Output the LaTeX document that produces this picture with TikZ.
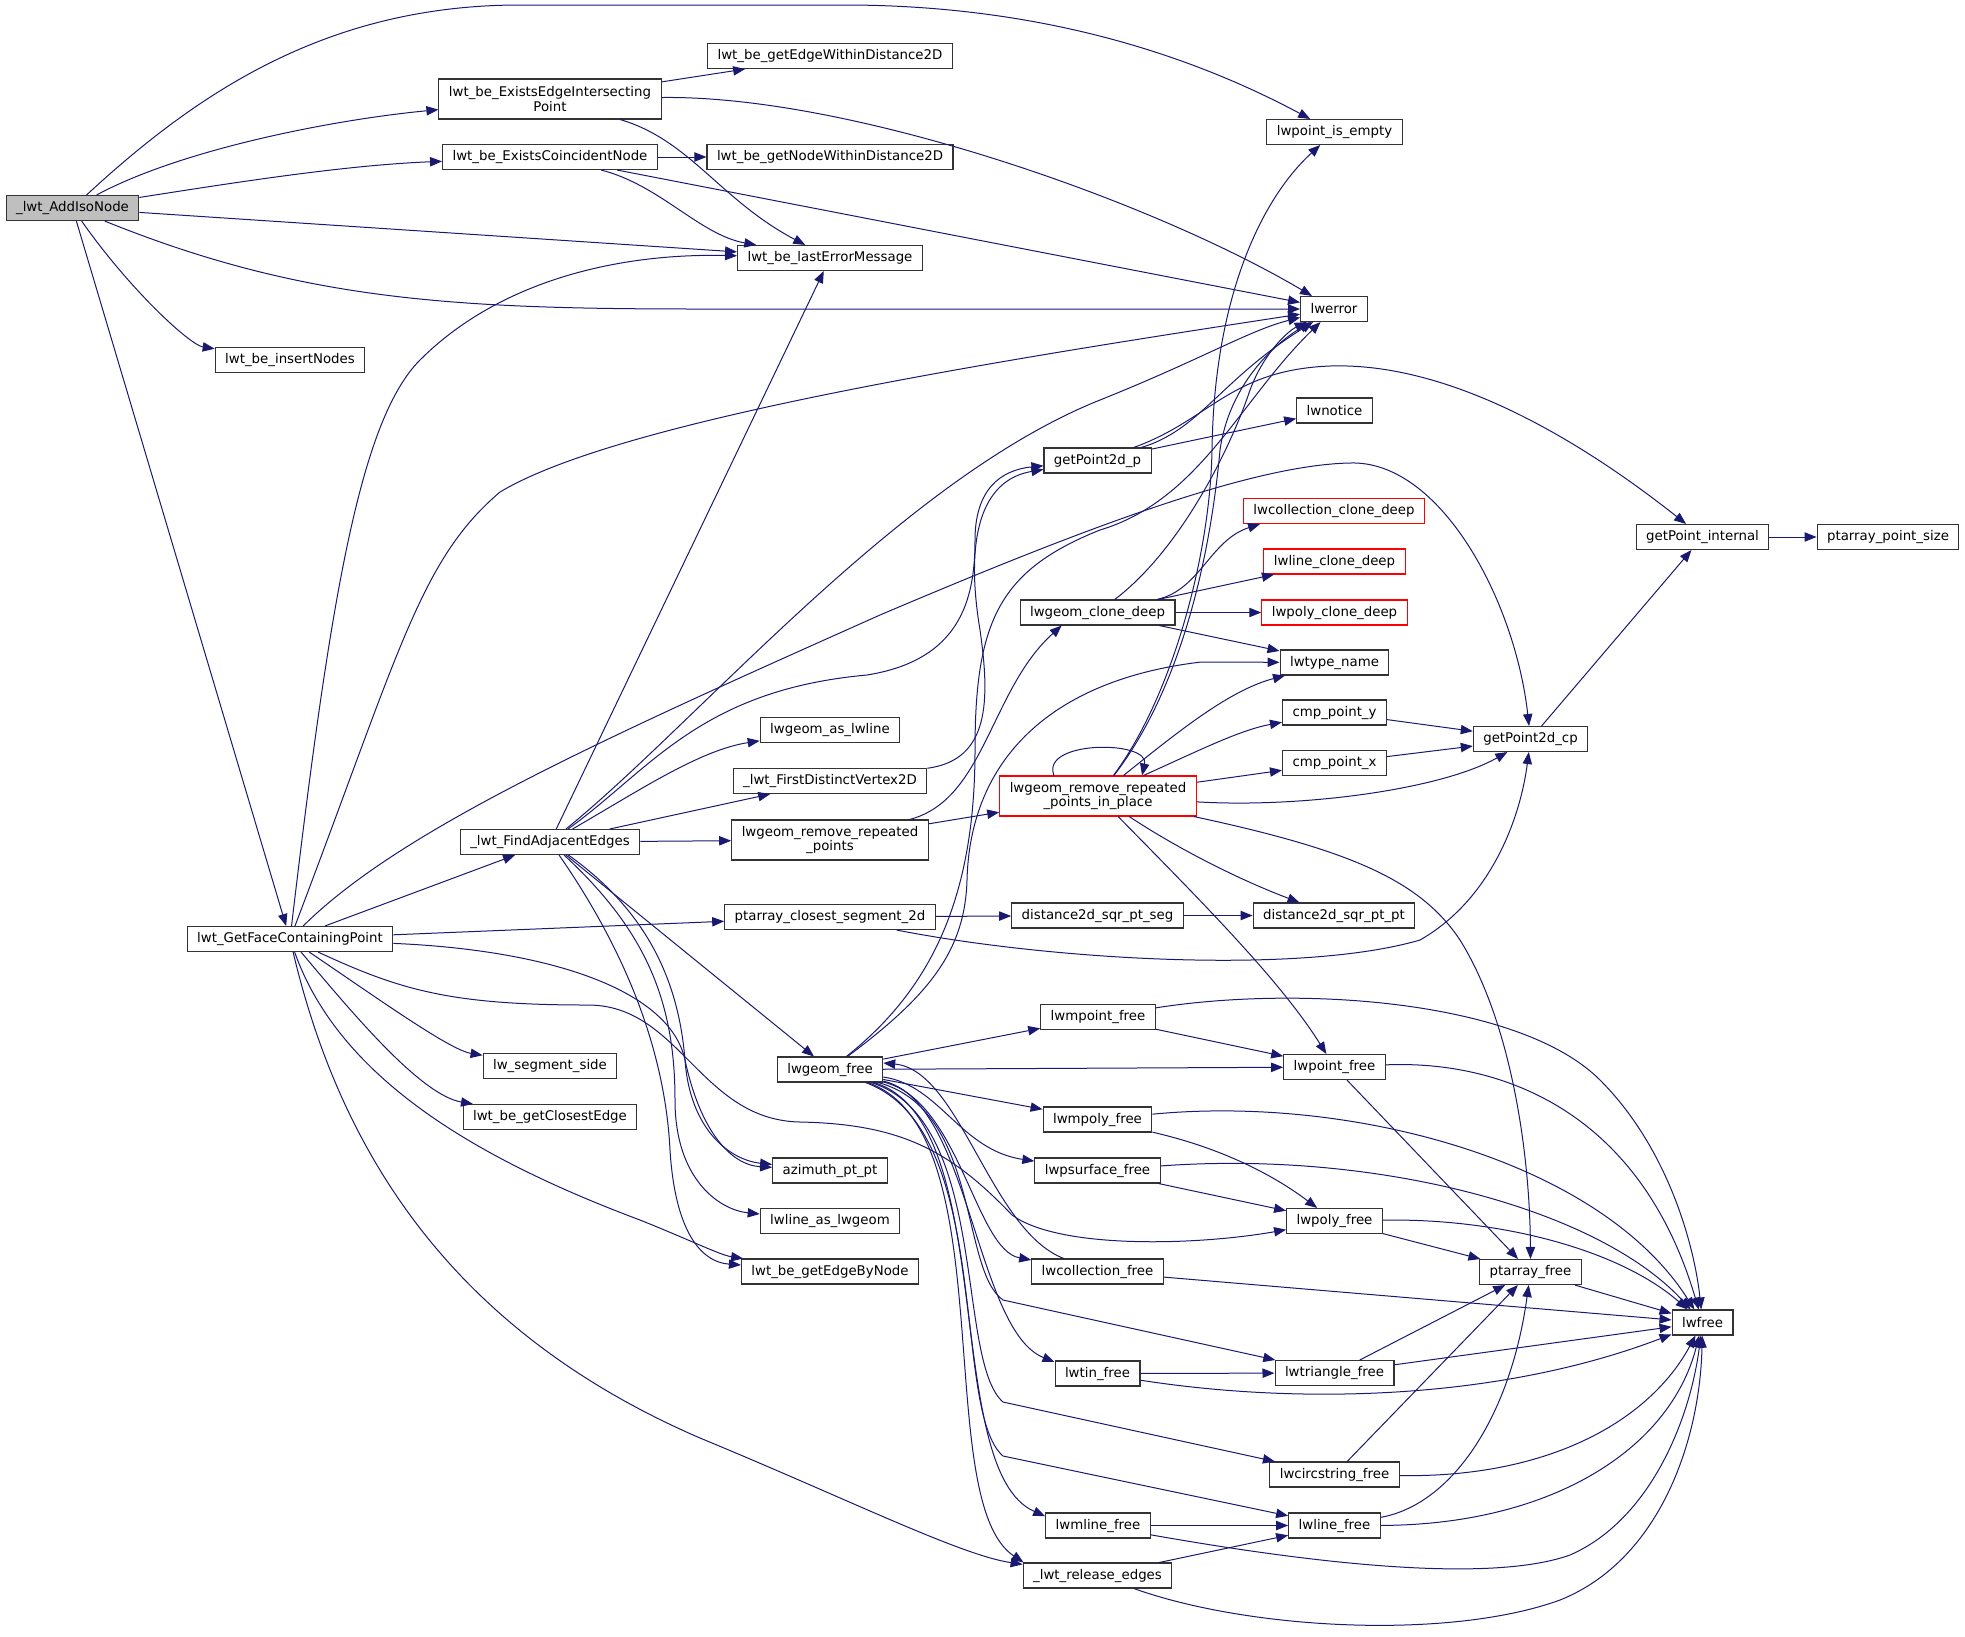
\documentclass[tikz,border=0pt]{standalone}
\usepackage{fontspec}
\setmainfont{DejaVu Sans}
\usepackage{tikz}
\usetikzlibrary{arrows.meta}
\definecolor{calledge}{HTML}{191970}
\definecolor{curfill}{HTML}{BFBFBF}
\tikzset{fn/.style={draw=black!80, line width=0.8pt, fill=white, font=\fontsize{10}{11}\selectfont, inner xsep=7.5pt, inner ysep=2pt, minimum height=18.75pt, align=center}}
\tikzset{fnred/.style={fn, draw=red}}
\tikzset{fncur/.style={fn, fill=curfill}}
\tikzset{call/.style={draw=calledge, line width=0.75pt, -{Triangle[length=9pt,width=7pt]}}}

\begin{document}
\begin{tikzpicture}[x=0.75pt, y=-0.75pt]

\useasboundingbox (0,0) rectangle (1965,1636);

\node [fncur] (AddIsoNode) at (72.5,208) {\_lwt\_AddIsoNode};
\node [fn] (insertNodes) at (290,360) {lwt\_be\_insertNodes};
\node [fn] (GetFace) at (290,939) {lwt\_GetFaceContainingPoint};

\node [fn, minimum height=30pt] (EEIP) at (550,99) {lwt\_be\_ExistsEdgeIntersecting\\Point};
\node [fn] (ECN) at (550,157) {lwt\_be\_ExistsCoincidentNode};
\node [fn] (FAE) at (550,842) {\_lwt\_FindAdjacentEdges};
\node [fn] (segside) at (550,1066) {lw\_segment\_side};
\node [fn] (closestEdge) at (550,1117) {lwt\_be\_getClosestEdge};

\node [fn] (edgeWithin) at (830,56) {lwt\_be\_getEdgeWithinDistance2D};
\node [fn] (nodeWithin) at (830,157) {lwt\_be\_getNodeWithinDistance2D};
\node [fn] (lastErr) at (830,258) {lwt\_be\_lastErrorMessage};
\node [fn] (asLwline) at (830,730) {lwgeom\_as\_lwline};
\node [fn] (firstDistinct) at (830,781) {\_lwt\_FirstDistinctVertex2D};
\node [fn, minimum height=30pt] (rrp) at (830,840) {lwgeom\_remove\_repeated\\\_points};
\node [fn] (closestSeg) at (830,917) {ptarray\_closest\_segment\_2d};
\node [fn] (lwgeomFree) at (830,1069.5) {lwgeom\_free};
\node [fn] (azimuth) at (830,1170.5) {azimuth\_pt\_pt};
\node [fn] (lineAsGeom) at (830,1221) {lwline\_as\_lwgeom};
\node [fn] (edgeByNode) at (830,1271.5) {lwt\_be\_getEdgeByNode};

\node [fn] (getP2dp) at (1097.5,460.5) {getPoint2d\_p};
\node [fn] (cloneDeep) at (1097.5,612.5) {lwgeom\_clone\_deep};
\node [fnred, minimum height=30pt] (rrpip) at (1098,796) {lwgeom\_remove\_repeated\\\_points\_in\_place};
\node [fn] (dsqrSeg) at (1097.5,915.5) {distance2d\_sqr\_pt\_seg};
\node [fn] (mpointFree) at (1098,1017) {lwmpoint\_free};
\node [fn] (mpolyFree) at (1097.5,1119.5) {lwmpoly\_free};
\node [fn] (psurfFree) at (1097.5,1170.5) {lwpsurface\_free};
\node [fn] (collFree) at (1097.5,1271.5) {lwcollection\_free};
\node [fn] (tinFree) at (1097.5,1373.5) {lwtin\_free};
\node [fn] (mlineFree) at (1098,1525.5) {lwmline\_free};
\node [fn] (releaseEdges) at (1097.5,1575.5) {\_lwt\_release\_edges};

\node [fn] (ptEmpty) at (1334.5,132) {lwpoint\_is\_empty};
\node [fn] (lwerror) at (1334,309) {lwerror};
\node [fn] (lwnotice) at (1334.5,410.5) {lwnotice};
\node [fnred] (collClone) at (1334,511) {lwcollection\_clone\_deep};
\node [fnred] (lineClone) at (1334.5,561.5) {lwline\_clone\_deep};
\node [fnred] (polyClone) at (1334.5,612.5) {lwpoly\_clone\_deep};
\node [fn] (typeName) at (1334.5,662.5) {lwtype\_name};
\node [fn] (cmpY) at (1334.5,712.5) {cmp\_point\_y};
\node [fn] (cmpX) at (1334.5,763) {cmp\_point\_x};
\node [fn] (dsqrPt) at (1334,915.5) {distance2d\_sqr\_pt\_pt};
\node [fn] (pointFree) at (1334.5,1067) {lwpoint\_free};
\node [fn] (polyFree) at (1334.5,1221) {lwpoly\_free};
\node [fn] (triFree) at (1334.5,1373) {lwtriangle\_free};
\node [fn] (circFree) at (1334.5,1474.5) {lwcircstring\_free};
\node [fn] (lineFree) at (1334.5,1525.5) {lwline\_free};

\node [fn] (getP2dcp) at (1530.5,739) {getPoint2d\_cp};
\node [fn] (ptarrFree) at (1530.5,1272) {ptarray\_free};
\node [fn] (getPInternal) at (1702.5,537) {getPoint\_internal};
\node [fn] (lwfree) at (1702.5,1322.5) {lwfree};
\node [fn] (ptSize) at (1888,537) {ptarray\_point\_size};

% straight calls
\foreach \a/\b in {AddIsoNode/lastErr, AddIsoNode/GetFace, EEIP/edgeWithin, ECN/nodeWithin, ECN/lwerror,
  GetFace/FAE, GetFace/closestSeg, FAE/lastErr, FAE/firstDistinct, FAE/rrp, FAE/lwgeomFree, rrp/rrpip,
  rrpip/cmpX, cloneDeep/lineClone, cloneDeep/polyClone, cloneDeep/typeName, getP2dp/lwnotice,
  cmpY/getP2dcp, cmpX/getP2dcp, getP2dcp/getPInternal, getPInternal/ptSize, closestSeg/dsqrSeg,
  dsqrSeg/dsqrPt, lwgeomFree/mpointFree, lwgeomFree/pointFree, lwgeomFree/mpolyFree,
  mpointFree/pointFree, pointFree/ptarrFree, psurfFree/polyFree, polyFree/ptarrFree,
  ptarrFree/lwfree, collFree/lwfree, triFree/ptarrFree, triFree/lwfree, tinFree/triFree,
  circFree/ptarrFree, mlineFree/lineFree, releaseEdges/lineFree}
  {\draw [call] (\a) -- (\b);}

\draw [call] (AddIsoNode) .. controls (200,90) and (330,5) .. (520,5) -- (844,5) .. controls (1050,5) and (1200,60) .. (ptEmpty);
\draw [call] (AddIsoNode) .. controls (180,150) and (330,120) .. (EEIP);
\draw [call] (AddIsoNode) .. controls (250,180) and (350,165) .. (ECN);
\draw [call] (AddIsoNode) .. controls (300,300) and (450,309) .. (700,309) -- (lwerror);
\draw [call] (AddIsoNode) .. controls (130,290) and (190,345) .. (insertNodes);

\draw [call] (EEIP) .. controls (850,95) and (1150,200) .. (lwerror);
\draw [call] (EEIP) .. controls (690,140) and (720,200) .. (lastErr);
\draw [call] (ECN) .. controls (660,185) and (700,235) .. (lastErr);

\draw [call] (GetFace) .. controls (330,600) and (360,420) .. (420,360) .. controls (500,280) and (620,253) .. (lastErr);
\draw [call] (GetFace) .. controls (400,650) and (420,560) .. (500,492) .. controls (620,420) and (1000,360) .. (lwerror);
\draw [call] (GetFace) .. controls (400,830) and (600,740) .. (880,615) .. controls (1080,530) and (1250,465) .. (1350,463) .. controls (1440,460) and (1515,600) .. (getP2dcp);
\draw [call] (GetFace) .. controls (380,1000) and (450,1050) .. (segside);
\draw [call] (GetFace) .. controls (350,1010) and (420,1095) .. (closestEdge);
\draw [call] (GetFace) .. controls (340,1080) and (480,1160) .. (640,1220) .. controls (690,1240) and (720,1255) .. (edgeByNode);
\draw [call] (GetFace) .. controls (340,1150) and (450,1330) .. (700,1438) .. controls (850,1500) and (960,1555) .. (releaseEdges);
\draw [call] (GetFace) .. controls (550,950) and (670,990) .. (685,1060) .. controls (700,1130) and (730,1165) .. (azimuth);
\draw [call] (GetFace) .. controls (400,990) and (450,1005) .. (588,1005) .. controls (680,1005) and (700,1120) .. (800,1122) .. controls (900,1124) and (950,1150) .. (1012,1215) .. controls (1060,1250) and (1200,1245) .. (polyFree);

\draw [call] (FAE) .. controls (700,720) and (900,480) .. (1100,400) .. controls (1200,360) and (1250,330) .. (lwerror);
\draw [call] (FAE) .. controls (650,770) and (700,690) .. (867,675) .. controls (960,660) and (975,600) .. (975,540) .. controls (975,490) and (1000,470) .. (getP2dp);
\draw [call] (FAE) .. controls (640,790) and (700,750) .. (asLwline);
\draw [call] (FAE) .. controls (660,920) and (680,1000) .. (685,1060) .. controls (690,1130) and (730,1160) .. (azimuth);
\draw [call] (FAE) .. controls (645,930) and (675,1000) .. (675,1100) .. controls (675,1180) and (720,1210) .. (lineAsGeom);
\draw [call] (FAE) .. controls (625,950) and (665,1050) .. (670,1150) .. controls (675,1230) and (700,1262) .. (edgeByNode);

\draw [call] (firstDistinct) .. controls (990,760) and (990,700) .. (980,630) .. controls (965,540) and (980,480) .. (getP2dp);
\draw [call] (rrp) .. controls (985,800) and (990,690) .. (cloneDeep.200);

\draw [call] (rrpip.155) .. controls (1040,740) and (1150,740) .. (rrpip.25);
\draw [call] (rrpip) .. controls (1180,690) and (1210,560) .. (1220,450) .. controls (1230,380) and (1280,340) .. (lwerror);
\draw [call] (rrpip) .. controls (1170,700) and (1210,560) .. (1212,450) .. controls (1214,300) and (1260,200) .. (ptEmpty);
\draw [call] (rrpip) .. controls (1180,730) and (1230,690) .. (typeName);
\draw [call] (rrpip) .. controls (1200,750) and (1240,730) .. (cmpY);
\draw [call] (rrpip) .. controls (1300,808) and (1440,790) .. (getP2dcp);
\draw [call] (rrpip) .. controls (1180,850) and (1240,880) .. (dsqrPt);
\draw [call] (rrpip) .. controls (1200,900) and (1280,980) .. (pointFree);
\draw [call] (rrpip) .. controls (1350,850) and (1420,880) .. (1460,940) .. controls (1510,1020) and (1530,1150) .. (ptarrFree);

\draw [call] (cloneDeep) .. controls (1200,590) and (1210,540) .. (collClone.190);
\draw [call] (cloneDeep) .. controls (1180,550) and (1230,450) .. (1250,390) .. controls (1265,350) and (1290,330) .. (lwerror);

\draw [call] (getP2dp) .. controls (1200,430) and (1220,380) .. (lwerror);
\draw [call] (getP2dp) .. controls (1210,420) and (1230,370) .. (1330,366) .. controls (1450,362) and (1580,440) .. (getPInternal);

\draw [call] (closestSeg) .. controls (1050,960) and (1300,975) .. (1420,940) .. controls (1490,900) and (1520,820) .. (getP2dcp);

\draw [call] (lwgeomFree) .. controls (930,990) and (975,900) .. (975,750) .. controls (975,620) and (1000,570) .. (1100,530) .. controls (1200,500) and (1240,400) .. (lwerror);
\draw [call] (lwgeomFree) .. controls (930,995) and (965,950) .. (967,880) .. controls (970,760) and (1050,680) .. (1201,662) -- (typeName);
\draw [call] (lwgeomFree) .. controls (940,1085) and (960,1150) .. (psurfFree);
\draw [call] (lwgeomFree) .. controls (960,1100) and (975,1250) .. (collFree);
\draw [call] (collFree) .. controls (990,1230) and (960,1070) .. (lwgeomFree.7);
\draw [call] (lwgeomFree) .. controls (970,1100) and (975,1330) .. (tinFree.165);
\draw [call] (lwgeomFree) .. controls (980,1110) and (960,1270) .. (1003,1300) -- (triFree);
\draw [call] (lwgeomFree) .. controls (990,1120) and (955,1360) .. (1003,1402) -- (circFree);
\draw [call] (lwgeomFree) .. controls (995,1130) and (950,1410) .. (1003,1456) -- (lineFree);
\draw [call] (lwgeomFree) .. controls (1000,1120) and (940,1470) .. (mlineFree.170);
\draw [call] (lwgeomFree) .. controls (1005,1130) and (930,1500) .. (releaseEdges.170);

\draw [call] (mpointFree) .. controls (1300,985) and (1520,1000) .. (1600,1080) .. controls (1670,1150) and (1695,1250) .. (lwfree);
\draw [call] (pointFree) .. controls (1500,1060) and (1640,1110) .. (lwfree);
\draw [call] (mpolyFree) .. controls (1350,1095) and (1600,1160) .. (lwfree);
\draw [call] (mpolyFree) .. controls (1230,1150) and (1280,1180) .. (polyFree);
\draw [call] (psurfFree) .. controls (1380,1150) and (1600,1210) .. (lwfree);
\draw [call] (polyFree) .. controls (1500,1218) and (1620,1250) .. (lwfree);
\draw [call] (tinFree) .. controls (1300,1405) and (1500,1400) .. (lwfree);
\draw [call] (circFree) .. controls (1550,1478) and (1650,1420) .. (lwfree);
\draw [call] (lineFree) .. controls (1450,1505) and (1510,1420) .. (ptarrFree);
\draw [call] (lineFree) .. controls (1550,1525) and (1670,1450) .. (lwfree);
\draw [call] (mlineFree) .. controls (1350,1570) and (1500,1580) .. (1570,1555) .. controls (1650,1520) and (1690,1420) .. (lwfree);
\draw [call] (releaseEdges) .. controls (1250,1630) and (1450,1640) .. (1560,1600) .. controls (1660,1560) and (1700,1440) .. (lwfree);

\end{tikzpicture}
\end{document}
